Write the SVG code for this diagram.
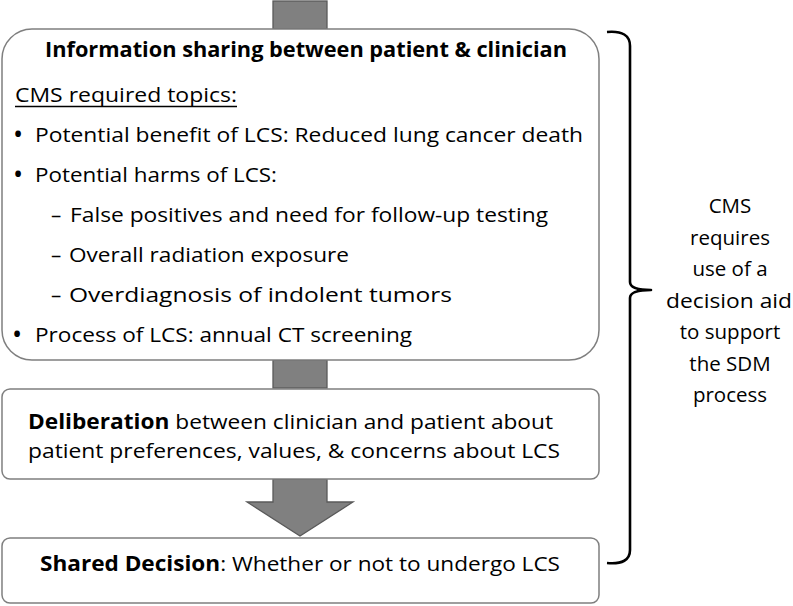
<svg xmlns="http://www.w3.org/2000/svg" width="793" height="606" viewBox="0 0 793 606">
<style>
.box{fill:#ffffff;stroke:#7f7f7f;stroke-width:1.5}
.arr{fill:#808080;stroke:#595959;stroke-width:1.3}
.t{font-family:"Open Sans","Liberation Sans",sans-serif;font-size:20.5px;fill:#000}
.bu{font-family:"Open Sans","Liberation Sans",sans-serif;font-size:27px;fill:#000}
.b{font-weight:bold}
.c{text-anchor:middle}
.brace{fill:none;stroke:#000;stroke-width:2.6;stroke-linejoin:round}
</style>
<rect width="793" height="606" fill="#ffffff"/>
<g id="connectors">
<rect class="arr" x="273" y="1" width="54" height="28"/>
<rect class="arr" x="273" y="360" width="54" height="28"/>
<path class="arr" d="M273,479 L327,479 L327,502 L353,502 L300,536 L247,502 L273,502 Z"/>
</g>
<g id="info">
<rect class="box" x="2" y="29" width="597" height="331" rx="30" ry="30"/>
<text class="t b" x="45" y="57" textLength="522" lengthAdjust="spacingAndGlyphs">Information sharing between patient &amp; clinician</text>
<text class="t" x="15" y="101.7" textLength="222" lengthAdjust="spacingAndGlyphs">CMS required topics:</text>
<line x1="15" y1="106.5" x2="237" y2="106.5" stroke="#000" stroke-width="1.3"/>
<text class="bu" x="13" y="143.5">•</text>
<text class="t" x="35" y="141.7" textLength="548" lengthAdjust="spacingAndGlyphs">Potential benefit of LCS: Reduced lung cancer death</text>
<text class="bu" x="13" y="183.5">•</text>
<text class="t" x="35" y="181.7" textLength="242" lengthAdjust="spacingAndGlyphs">Potential harms of LCS:</text>
<text class="t" x="51" y="221.7">–</text>
<text class="t" x="70" y="221.7" textLength="478" lengthAdjust="spacingAndGlyphs">False positives and need for follow-up testing</text>
<text class="t" x="51" y="261.7">–</text>
<text class="t" x="69" y="261.7" textLength="280" lengthAdjust="spacingAndGlyphs">Overall radiation exposure</text>
<text class="t" x="51" y="301.7">–</text>
<text class="t" x="69" y="301.7" textLength="383" lengthAdjust="spacingAndGlyphs">Overdiagnosis of indolent tumors</text>
<text class="bu" x="12" y="343.5">•</text>
<text class="t" x="35" y="341.7" textLength="377" lengthAdjust="spacingAndGlyphs">Process of LCS: annual CT screening</text>
</g>
<g id="deliberation">
<rect class="box" x="2" y="389" width="597" height="90" rx="8" ry="8"/>
<text class="t" x="28" y="429" textLength="525" lengthAdjust="spacingAndGlyphs"><tspan class="b">Deliberation</tspan> between clinician and patient about</text>
<text class="t" x="28" y="458" textLength="532" lengthAdjust="spacingAndGlyphs">patient preferences, values, &amp; concerns about LCS</text>
</g>
<g id="decision">
<rect class="box" x="2" y="538" width="597" height="65" rx="8" ry="8"/>
<text class="t" x="40" y="571" textLength="520" lengthAdjust="spacingAndGlyphs"><tspan class="b">Shared Decision</tspan>: Whether or not to undergo LCS</text>
</g>
<g id="brace">
<path class="brace" d="M607,32 Q630,30 630,46 L630,282 Q630,290 651,290 Q630,290 630,298 L630,550 Q630,565 607,563"/>
</g>
<g id="note">
<text class="t c" x="730" y="213">CMS</text>
<text class="t c" x="730" y="244.5">requires</text>
<text class="t c" x="730" y="276">use of a</text>
<text class="t c" x="729" y="307.5" textLength="126" lengthAdjust="spacingAndGlyphs">decision aid</text>
<text class="t c" x="730" y="339">to support</text>
<text class="t c" x="730" y="370.5">the SDM</text>
<text class="t c" x="730" y="402">process</text>
</g>
</svg>
